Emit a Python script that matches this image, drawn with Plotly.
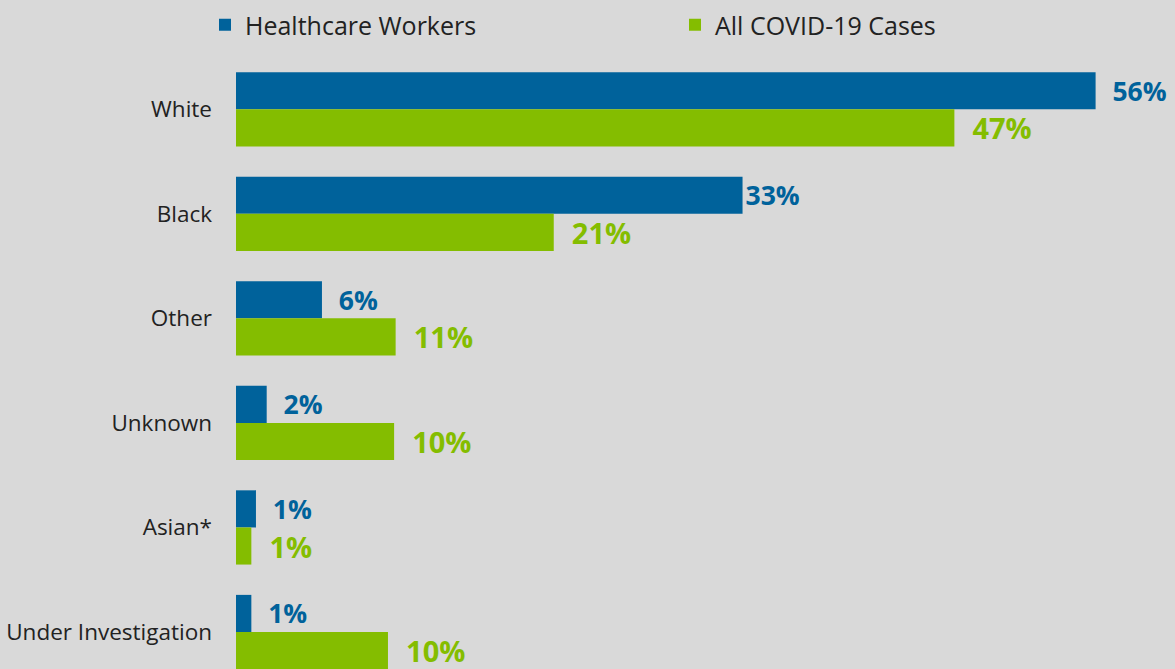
import plotly.graph_objects as go

categories = ["White", "Black", "Other", "Unknown", "Asian*", "Under Investigation"]
hcw_values = [56.0, 33.0, 5.6, 2.0, 1.3, 1.0]
all_values = [46.8, 20.7, 10.4, 10.3, 1.0, 9.9]
hcw_labels = ["56%", "33%", "6%", "2%", "1%", "1%"]
all_labels = ["47%", "21%", "11%", "10%", "1%", "10%"]

BLUE = "#00629b"
GREEN = "#84bd00"
BG = "#d9d9d9"
NB = "\u00a0"

# label padding (style): the 33% label sits flush against its bar in the reference
hcw_pad = [2, 0, 2, 2, 2, 2]
all_pad = [2, 2, 2, 2, 2, 2]

fig = go.Figure()
fig.add_trace(go.Bar(
    y=categories, x=hcw_values, orientation="h", name="Healthcare Workers",
    marker=dict(color=BLUE, line=dict(width=0)),
    text=hcw_labels, texttemplate=[NB * p + "%{text}" for p in hcw_pad],
    textposition="outside", constraintext="none", cliponaxis=False,
    textfont=dict(family="Open Sans", size=26.5, color=BLUE, weight="bold"),
    hoverinfo="skip",
))
fig.add_trace(go.Bar(
    y=categories, x=all_values, orientation="h", name="All COVID-19 Cases",
    marker=dict(color=GREEN, line=dict(width=0)),
    text=all_labels, texttemplate=[NB * p + "%{text}" for p in all_pad],
    textposition="outside", constraintext="none", cliponaxis=False,
    textfont=dict(family="Open Sans", size=29, color=GREEN, weight="bold"),
    hoverinfo="skip",
))

fig.update_layout(
    width=1175, height=669,
    paper_bgcolor=BG, plot_bgcolor=BG,
    barmode="group", bargap=0.29, bargroupgap=0,
    margin=dict(l=236, r=0, t=57, b=0, pad=0),
    font=dict(family="Open Sans", color="#222222"),
    showlegend=True,
    legend=dict(
        orientation="h", xref="container", yref="container",
        x=205 / 1175, xanchor="left", y=1 - 25 / 669, yanchor="middle",
        entrywidth=425, entrywidthmode="pixels",
        font=dict(family="Open Sans", size=25, color="#222222"),
        bgcolor="rgba(0,0,0,0)", itemclick=False, traceorder="normal",
    ),
    xaxis=dict(range=[0, 939 / 15.35], visible=False, fixedrange=True),
    yaxis=dict(
        range=[5.354, -0.5], showgrid=False, zeroline=False, showline=False,
        ticks="", ticklabelstandoff=23,
        tickfont=dict(family="Open Sans", size=22.5, color="#222222"),
        fixedrange=True,
    ),
)

fig.write_html(
    "out.html",
    config={"displayModeBar": False},
    post_script="document.body.style.margin='0';document.body.style.overflow='hidden';",
)
